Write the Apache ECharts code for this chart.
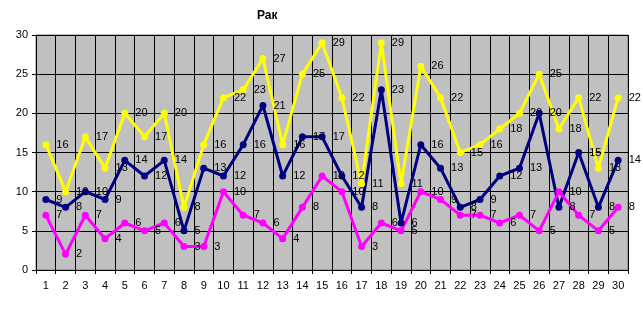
<!DOCTYPE html>
<html>
<head>
<meta charset="utf-8">
<script src="https://cdn.jsdelivr.net/npm/echarts@6/dist/echarts.min.js"></script>
<style>html,body{margin:0;padding:0;background:#fff;}#c{width:643px;height:311px;}</style>
</head>
<body>
<div id="c"></div>
<script>
const categories = ['1','2','3','4','5','6','7','8','9','10','11','12','13','14','15','16','17','18','19','20','21','22','23','24','25','26','27','28','29','30'];
const yellowValues = [16,10,17,13,20,17,20,8,16,22,23,27,16,25,29,22,11,29,11,26,22,15,16,18,20,25,18,22,13,22];
const navyValues = [9,8,10,9,14,12,14,5,13,12,16,21,12,17,17,12,8,23,6,16,13,8,9,12,13,20,8,15,8,14];
const magentaValues = [7,2,7,4,6,5,6,3,3,10,7,6,4,8,12,10,3,6,5,10,9,7,7,6,7,5,10,7,5,8];
const yTicks = {min:0, max:30, interval:5};

const FONT = 'Liberation Sans, Arial, sans-serif';
function mk(name, data, color){
  return {
    name, type:'line', data, color,
    symbol:'circle', symbolSize:7,
    lineStyle:{width:3, color},
    itemStyle:{color},
    label:{show:true, position:'right', distance:7, color:'#000', fontFamily:FONT, fontSize:11},
    animation:false
  };
}
const chart = echarts.init(document.getElementById('c'), null, {renderer:'canvas'});
chart.setOption({
  animation:false,
  title:{text:'Рак', left:252, top:5, textStyle:{fontFamily:FONT, fontSize:12, fontWeight:'bold', color:'#000'}},
  grid:{left:36, right:15, top:35, bottom:41, show:true, backgroundColor:'#C0C0C0', borderColor:'#808080', borderWidth:1},
  xAxis:{type:'category', data:categories, boundaryGap:true,
    axisLine:{lineStyle:{color:'#000'}}, axisTick:{show:true, length:4, lineStyle:{color:'#000'}},
    axisLabel:{color:'#000', fontFamily:FONT, fontSize:11, margin:10},
    splitLine:{show:true, lineStyle:{color:'#000', width:1}}},
  yAxis:{type:'value', min:yTicks.min, max:yTicks.max, interval:yTicks.interval,
    axisLine:{show:true, lineStyle:{color:'#000'}}, axisTick:{show:true, length:4, lineStyle:{color:'#000'}},
    axisLabel:{color:'#000', fontFamily:FONT, fontSize:11, margin:8},
    splitLine:{show:true, lineStyle:{color:'#000', width:1}}},
  series:[mk('s1', yellowValues, '#FFFF00'), mk('s2', navyValues, '#000080'), mk('s3', magentaValues, '#FF00FF')]
});
</script>
</body>
</html>
